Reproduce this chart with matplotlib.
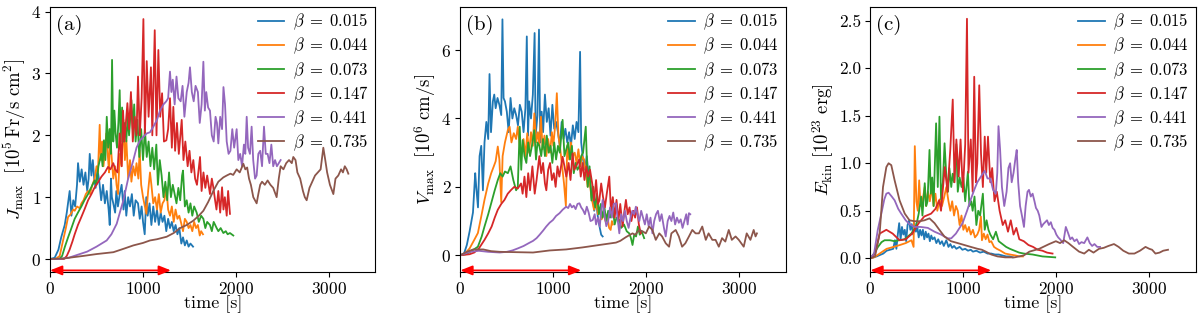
import numpy as np
import matplotlib
matplotlib.use("Agg")
import matplotlib.pyplot as plt

plt.rcParams['font.family'] = 'serif'
plt.rcParams['font.serif'] = ['cmr10', 'DejaVu Serif']
plt.rcParams['mathtext.fontset'] = 'cm'
plt.rcParams['axes.formatter.use_mathtext'] = True
plt.rcParams['axes.unicode_minus'] = False

betas = ['0.015', '0.044', '0.073', '0.147', '0.441', '0.735']
colors = ['#1f77b4', '#ff7f0e', '#2ca02c', '#d62728', '#9467bd', '#8c564b']
xticks = [0, 1000, 2000, 3000]

# ---------------- panel (a): J_max ----------------
a_blue = np.array([(0,0),(50,0.02),(90,0.15),(120,0.35),(158,0.55),(180,0.75),(211,1.1),(230,0.7),(250,0.95),(270,0.85),(290,1.2),(301,1.55),(320,1.25),(340,1.45),(360,1.2),(380,1.4),(400,1.1),(415,1.3),(427,1.7),(445,1.35),(460,1.6),(475,1.3),(490,1.15),(510,1.45),(530,1.25),(550,0.95),(570,1.2),(590,0.9),(610,1.1),(630,0.8),(642,0.55),(655,1.3),(665,1.0),(680,0.9),(700,0.75),(713,1.1),(730,0.85),(750,1.05),(770,1.2),(790,0.8),(803,1.1),(820,0.7),(840,1.0),(860,0.85),(880,1.05),(900,0.7),(920,0.95),(946,0.9),(965,0.65),(985,0.85),(1000,0.6),(1018,0.4),(1035,1.0),(1050,0.7),(1070,0.9),(1090,0.55),(1110,0.85),(1130,0.6),(1150,0.8),(1170,0.55),(1190,0.75),(1210,0.6),(1230,0.7),(1250,0.45),(1270,0.65),(1290,0.5),(1310,0.6),(1330,0.45),(1350,0.55),(1370,0.4),(1390,0.5),(1412,0.25),(1430,0.35),(1450,0.22),(1470,0.3),(1490,0.2),(1510,0.25),(1538,0.2)])
a_orange = np.array([(0,0),(60,0.0),(104,0.05),(140,0.3),(170,0.5),(194,0.68),(220,0.72),(250,0.8),(265,0.78),(290,0.85),(320,0.82),(337,0.9),(360,0.95),(385,1.05),(409,1.1),(430,1.05),(455,1.2),(480,1.3),(500,1.5),(515,1.4),(534,2.17),(545,1.6),(560,1.9),(575,1.5),(590,1.75),(605,2.03),(620,1.7),(635,1.4),(645,2.1),(660,1.7),(680,1.3),(700,1.5),(715,1.2),(731,1.05),(750,1.7),(770,1.5),(790,2.25),(805,1.6),(821,1.92),(840,1.3),(860,1.6),(875,1.25),(895,1.5),(915,1.35),(930,1.55),(950,1.3),(964,1.76),(980,1.2),(1000,1.0),(1020,0.85),(1036,0.73),(1055,1.1),(1075,1.4),(1090,1.2),(1110,0.9),(1130,1.0),(1150,0.8),(1170,1.05),(1190,0.75),(1210,0.9),(1230,0.95),(1251,1.16),(1270,0.8),(1290,0.7),(1310,0.85),(1330,0.6),(1350,0.8),(1370,0.65),(1390,0.7),(1412,0.57),(1430,0.45),(1450,0.65),(1470,0.6),(1490,0.5),(1510,0.55),(1530,0.45),(1550,0.6),(1570,0.5),(1590,0.55),(1610,0.38),(1625,0.45),(1645,0.4)])
a_green = np.array([(0,0),(100,0.0),(130,0.05),(160,0.2),(194,0.35),(230,0.5),(265,0.65),(300,0.75),(337,0.85),(370,0.95),(409,1.05),(440,1.15),(480,1.27),(500,1.2),(520,1.5),(552,1.7),(565,1.5),(580,1.92),(595,1.6),(610,2.3),(625,1.8),(640,2.1),(655,1.7),(667,3.22),(680,1.9),(692,2.4),(705,2.03),(720,1.8),(735,2.2),(749,2.73),(760,1.9),(775,2.45),(790,1.9),(805,2.2),(820,1.9),(835,2.3),(850,2.0),(875,2.57),(890,2.1),(905,2.5),(920,1.9),(940,2.25),(960,1.65),(980,2.1),(1000,1.6),(1020,2.1),(1040,1.65),(1060,1.9),(1080,1.5),(1100,1.8),(1120,1.45),(1143,1.85),(1160,1.2),(1180,1.6),(1200,1.35),(1220,1.0),(1240,1.25),(1260,0.95),(1280,1.4),(1300,1.0),(1320,1.2),(1340,1.05),(1360,0.9),(1380,1.15),(1400,0.95),(1420,1.35),(1430,1.43),(1450,0.85),(1470,0.95),(1490,0.75),(1510,0.9),(1530,0.7),(1550,0.85),(1577,0.75),(1600,0.6),(1625,0.7),(1649,0.65),(1670,0.5),(1690,0.6),(1720,0.55),(1740,0.45),(1760,0.6),(1792,0.5),(1810,0.45),(1835,0.5),(1864,0.42),(1890,0.45),(1910,0.4),(1935,0.42),(1971,0.38)])
a_red = np.array([(0,0),(150,0.0),(180,0.05),(210,0.15),(240,0.28),(265,0.4),(300,0.55),(337,0.68),(370,0.8),(409,0.95),(445,1.05),(480,1.16),(520,1.25),(552,1.33),(590,1.4),(624,1.49),(650,1.45),(680,1.55),(700,1.45),(725,1.4),(749,2.03),(770,1.5),(785,2.4),(800,1.9),(832,2.52),(850,2.1),(870,2.7),(890,1.9),(910,2.3),(930,2.0),(946,2.95),(965,2.0),(985,2.6),(1004,3.88),(1020,2.0),(1040,3.2),(1060,2.3),(1085,3.1),(1100,2.0),(1126,3.7),(1145,2.0),(1165,3.38),(1185,2.3),(1205,2.68),(1225,1.9),(1251,1.92),(1270,2.1),(1290,2.6),(1310,1.8),(1326,2.46),(1345,1.75),(1365,2.2),(1385,1.7),(1416,2.25),(1435,1.6),(1455,1.9),(1480,1.5),(1500,1.75),(1520,1.4),(1541,1.6),(1560,1.3),(1580,1.2),(1613,1.65),(1630,1.1),(1650,1.4),(1670,1.15),(1690,1.35),(1720,1.05),(1740,1.3),(1756,1.16),(1775,0.95),(1790,0.8),(1810,1.1),(1830,0.75),(1850,1.16),(1865,0.8),(1880,1.0),(1900,0.7),(1915,1.1),(1935,0.73)])
a_purple = np.array([(0,0),(100,0.0),(200,0.02),(300,0.07),(400,0.12),(500,0.2),(609,0.3),(660,0.4),(717,0.57),(760,0.8),(789,0.95),(840,1.3),(896,1.6),(930,1.8),(968,1.92),(1000,1.97),(1039,2.03),(1075,2.05),(1111,2.14),(1150,2.25),(1183,2.4),(1220,2.5),(1250,2.55),(1270,2.6),(1290,3.03),(1305,2.7),(1320,2.9),(1340,2.5),(1360,2.95),(1380,2.6),(1405,2.55),(1425,2.8),(1445,2.3),(1470,2.7),(1490,2.85),(1505,3.1),(1525,2.7),(1545,2.55),(1565,2.8),(1590,2.7),(1610,2.2),(1630,2.5),(1649,3.19),(1665,2.4),(1680,2.7),(1700,2.45),(1720,2.4),(1740,2.0),(1760,1.9),(1780,2.3),(1795,2.2),(1810,1.87),(1830,2.3),(1850,2.1),(1865,2.78),(1882,2.5),(1900,1.9),(1920,1.7),(1940,1.75),(1960,2.1),(1980,1.8),(2007,2.1),(2025,1.6),(2045,1.7),(2065,1.5),(2085,1.85),(2100,1.7),(2115,2.3),(2130,1.8),(2150,1.7),(2168,2.14),(2185,1.6),(2205,1.3),(2222,1.35),(2240,1.7),(2260,1.75),(2280,1.5),(2301,2.14),(2320,1.7),(2340,1.7),(2360,1.55),(2380,1.85),(2400,1.5),(2420,1.6),(2440,1.5),(2460,1.55),(2480,1.6)])
a_brown = np.array([(0,0),(150,0.01),(358,0.05),(500,0.08),(681,0.11),(800,0.17),(896,0.22),(1000,0.26),(1075,0.3),(1150,0.32),(1254,0.36),(1330,0.42),(1398,0.5),(1470,0.55),(1541,0.62),(1600,0.7),(1649,0.78),(1700,0.92),(1756,1.1),(1810,1.25),(1864,1.32),(1900,1.35),(1940,1.38),(1970,1.36),(2007,1.45),(2040,1.4),(2079,1.54),(2100,1.45),(2120,1.48),(2140,1.3),(2160,1.2),(2186,1.0),(2222,0.9),(2240,1.05),(2260,1.2),(2280,1.25),(2310,1.2),(2340,1.27),(2370,1.2),(2400,1.15),(2437,1.0),(2460,1.3),(2480,1.5),(2510,1.45),(2540,1.55),(2570,1.6),(2600,1.55),(2616,1.65),(2640,1.6),(2660,1.4),(2690,1.3),(2720,1.1),(2740,1.0),(2760,0.95),(2790,1.15),(2820,1.25),(2850,1.35),(2880,1.4),(2910,1.45),(2939,1.8),(2960,1.6),(2980,1.4),(3010,1.2),(3047,1.05),(3070,1.3),(3100,1.35),(3130,1.45),(3150,1.4),(3170,1.5),(3190,1.45),(3208,1.38)])

# ---------------- panel (b): V_max ----------------
b_blue_t = [0,40,70,100,136,160,171,190,207,225,243,260,280,300,314,330,350,365,380,400,420,440,453,465,480,500,520,540,560,580,600,620,640,660,680,700,715,728,740,760,780,799,810,830,846,860,875,890,910,930,950,970,990,1010,1030,1050,1070,1090,1110,1130,1150,1170,1190,1210,1230,1250,1270,1288,1300,1320,1340,1360,1380,1400,1420,1440,1460,1480,1500,1515,1531]
b_blue_v = [0,0.05,0.3,0.7,1.25,2.4,2.0,1.4,2.9,3.2,1.9,3.3,3.9,3.4,5.3,3.6,4.5,4.7,4.3,4.6,4.4,4.1,6.9,4.6,4.5,4.2,3.6,4.6,4.0,4.3,4.1,3.8,4.4,4.2,3.6,4.3,6.4,3.5,4.5,4.0,4.7,6.5,3.5,4.1,6.6,3.3,4.2,3.6,4.7,3.9,4.3,3.5,4.4,3.7,3.9,3.6,3.2,3.9,3.4,3.7,3.3,3.6,3.2,3.8,3.4,3.9,3.6,5.95,3.3,2.8,2.5,2.9,2.3,2.0,1.8,1.3,1.6,1.1,0.8,0.6,0.55]
b_blue = np.column_stack([b_blue_t, b_blue_v])
b_orange = np.array([(0,0),(50,0.05),(100,0.2),(150,0.45),(189,0.65),(230,1.2),(260,1.62),(300,2.1),(332,2.4),(360,2.6),(380,2.75),(403,3.18),(420,2.8),(440,1.55),(455,2.9),(480,3.3),(511,3.66),(530,3.76),(550,3.3),(575,3.57),(600,3.4),(618,3.76),(640,3.2),(660,2.98),(680,3.4),(700,2.9),(720,3.57),(740,3.0),(760,3.6),(780,3.2),(796,4.15),(815,3.3),(835,3.6),(850,3.2),(867,4.05),(885,3.1),(905,3.5),(925,2.9),(945,3.4),(965,3.0),(985,3.6),(1000,3.2),(1020,3.8),(1038,4.74),(1055,3.5),(1075,3.1),(1095,2.6),(1115,2.1),(1135,1.45),(1150,3.2),(1170,2.8),(1190,3.3),(1210,2.9),(1230,3.0),(1250,2.7),(1270,3.1),(1290,2.6),(1310,2.9),(1331,2.8),(1350,2.4),(1370,2.0),(1390,2.2),(1410,1.7),(1438,1.33),(1460,1.6),(1480,1.2),(1500,1.3),(1520,1.05),(1540,1.25),(1560,1.0),(1580,1.2),(1600,0.8),(1617,0.74),(1630,1.0),(1640,0.9)])
b_green = np.array([(0,0),(60,0.03),(120,0.12),(189,0.25),(230,0.55),(260,0.84),(300,1.2),(332,1.52),(370,1.9),(403,2.2),(430,2.4),(455,2.3),(480,2.45),(511,2.4),(540,2.6),(570,2.2),(600,1.9),(618,2.0),(639,3.76),(655,2.5),(671,3.37),(690,2.9),(710,2.7),(730,3.3),(750,2.9),(770,3.2),(795,3.66),(814,2.8),(830,3.3),(850,3.2),(870,2.9),(890,3.4),(910,2.9),(930,3.5),(950,3.0),(970,3.2),(990,2.7),(1010,3.3),(1030,2.8),(1050,3.2),(1070,3.0),(1100,3.96),(1120,2.9),(1140,3.1),(1160,3.3),(1180,2.8),(1200,3.2),(1220,2.4),(1240,2.7),(1260,2.5),(1280,2.6),(1300,2.9),(1320,3.0),(1349,3.76),(1370,2.0),(1390,2.6),(1410,1.6),(1430,2.0),(1450,1.4),(1470,1.8),(1490,1.2),(1510,1.5),(1530,1.1),(1550,1.4),(1570,1.0),(1590,1.3),(1610,1.1),(1638,1.42),(1660,0.9),(1680,1.1),(1710,1.03),(1730,0.8),(1760,0.9),(1790,0.7),(1817,0.64),(1835,0.5),(1852,0.3),(1870,0.6),(1890,0.55),(1910,0.84),(1930,0.6),(1950,0.7),(1977,0.5)])
b_red = np.array([(0,0),(100,0.03),(150,0.08),(200,0.2),(260,0.45),(300,0.64),(337,0.84),(370,1.1),(403,1.33),(440,1.5),(475,1.62),(510,1.8),(546,1.91),(580,2.0),(618,1.95),(653,2.1),(670,1.8),(690,2.3),(710,1.7),(730,2.4),(750,1.9),(775,2.6),(800,1.8),(820,2.2),(850,2.9),(870,2.4),(890,2.7),(910,2.1),(925,1.9),(945,2.5),(965,2.7),(985,2.2),(1005,2.4),(1025,2.0),(1045,2.6),(1065,2.3),(1100,2.88),(1120,2.6),(1140,2.3),(1165,2.7),(1185,2.2),(1207,2.98),(1225,2.5),(1245,2.6),(1278,2.8),(1295,2.3),(1315,2.7),(1335,2.2),(1355,2.6),(1375,2.3),(1395,2.5),(1424,2.0),(1440,1.6),(1460,2.2),(1480,1.5),(1495,1.6),(1515,2.1),(1535,1.7),(1555,1.4),(1575,1.8),(1602,2.3),(1620,1.3),(1640,1.7),(1660,1.1),(1680,1.62),(1700,1.0),(1720,1.5),(1745,0.84),(1765,1.3),(1781,1.62),(1800,1.2),(1820,1.4),(1840,1.0),(1860,1.3),(1880,1.1),(1900,1.4),(1920,0.9),(1941,0.64)])
b_purple = np.array([(0,0),(100,0.1),(200,0.13),(300,0.1),(425,0.08),(500,0.1),(560,0.14),(618,0.2),(680,0.27),(740,0.36),(782,0.42),(820,0.5),(853,0.6),(890,0.72),(924,0.84),(960,0.95),(996,1.03),(1030,1.15),(1067,1.23),(1100,1.33),(1138,1.42),(1160,1.38),(1180,1.5),(1200,1.4),(1220,1.45),(1240,1.35),(1260,1.5),(1281,1.52),(1300,1.4),(1320,1.32),(1340,1.2),(1360,1.42),(1380,1.25),(1400,1.0),(1424,1.03),(1445,1.2),(1460,0.9),(1480,1.1),(1500,0.84),(1515,1.3),(1531,1.62),(1550,1.2),(1570,0.85),(1590,1.0),(1610,1.4),(1630,1.1),(1650,1.5),(1674,1.52),(1690,1.1),(1710,0.64),(1730,1.2),(1750,1.0),(1770,1.3),(1790,1.0),(1810,0.8),(1830,1.1),(1850,1.3),(1870,1.2),(1888,1.42),(1905,1.2),(1925,1.0),(1945,1.3),(1965,1.1),(1985,0.9),(2005,1.2),(2025,0.85),(2045,1.1),(2066,0.64),(2085,1.0),(2105,1.2),(2125,1.3),(2145,1.0),(2165,1.2),(2190,0.8),(2209,0.55),(2230,1.0),(2250,1.15),(2270,1.0),(2290,1.25),(2310,0.9),(2330,1.1),(2350,0.95),(2370,1.05),(2390,0.8),(2410,1.0),(2430,1.2),(2445,0.9),(2459,1.23),(2473,1.2)])
b_brown = np.array([(0,0),(68,0.1),(139,0.17),(246,0.17),(330,0.12),(425,0.1),(600,0.09),(782,0.08),(960,0.14),(1138,0.17),(1317,0.23),(1495,0.3),(1674,0.37),(1720,0.42),(1781,0.53),(1852,0.64),(1880,0.6),(1924,0.74),(1960,0.7),(1995,0.64),(2030,0.84),(2066,0.74),(2102,0.45),(2140,0.64),(2170,0.55),(2209,0.35),(2245,0.25),(2270,0.64),(2316,0.74),(2350,0.55),(2385,0.25),(2420,0.35),(2459,0.55),(2495,0.74),(2530,0.64),(2566,0.64),(2602,0.84),(2640,0.45),(2670,0.64),(2710,0.45),(2745,0.45),(2780,0.25),(2815,0.5),(2850,0.4),(2887,0.74),(2920,0.45),(2960,0.55),(2995,0.45),(3048,0.25),(3080,0.64),(3120,0.45),(3155,0.74),(3175,0.55),(3190,0.64)])

# ---------------- panel (c): E_kin ----------------
c_blue = np.array([(0,0),(68,0.02),(139,0.05),(175,0.08),(211,0.09),(246,0.1),(264,0.19),(280,0.1),(295,0.25),(310,0.37),(325,0.2),(340,0.33),(355,0.25),(370,0.3),(385,0.18),(400,0.35),(418,0.4),(430,0.3),(445,0.36),(460,0.25),(475,0.37),(490,0.28),(505,0.33),(520,0.22),(535,0.3),(550,0.24),(565,0.3),(580,0.2),(595,0.28),(610,0.22),(625,0.26),(640,0.18),(655,0.24),(670,0.2),(690,0.22),(710,0.16),(730,0.2),(750,0.15),(770,0.18),(790,0.13),(817,0.19),(840,0.12),(860,0.15),(880,0.11),(900,0.13),(925,0.1),(960,0.12),(990,0.09),(1020,0.1),(1050,0.08),(1080,0.09),(1103,0.07),(1140,0.08),(1180,0.06),(1220,0.07),(1260,0.05),(1300,0.05),(1340,0.04),(1380,0.04),(1420,0.03),(1460,0.02),(1500,0.02),(1531,0.01)])
c_orange = np.array([(0,0),(40,0.01),(100,0.05),(175,0.1),(250,0.12),(318,0.14),(380,0.16),(442,0.19),(465,0.12),(478,1.18),(495,0.6),(510,0.5),(525,0.82),(540,0.55),(560,0.6),(585,0.75),(600,0.55),(620,0.7),(640,0.6),(660,0.75),(680,0.55),(700,0.68),(720,0.5),(745,0.62),(770,0.55),(795,0.65),(817,0.75),(840,0.6),(860,0.5),(880,0.6),(900,0.45),(920,0.55),(940,0.5),(960,0.35),(980,0.45),(1000,0.3),(1020,0.35),(1040,0.28),(1060,0.33),(1080,0.25),(1103,0.3),(1125,0.22),(1150,0.25),(1170,0.3),(1189,0.44),(1200,0.19),(1220,0.26),(1240,0.2),(1260,0.25),(1280,0.17),(1300,0.18),(1330,0.12),(1360,0.1),(1400,0.08),(1450,0.05),(1500,0.04),(1560,0.03),(1602,0.02),(1640,0.02)])
c_green = np.array([(0,0),(40,0.05),(82,0.12),(120,0.17),(153,0.19),(210,0.19),(260,0.18),(310,0.19),(368,0.2),(440,0.26),(490,0.33),(520,0.47),(546,0.65),(560,0.45),(585,0.79),(600,0.55),(615,0.6),(636,1.14),(650,0.68),(665,0.85),(680,0.55),(707,1.42),(725,0.75),(743,1.49),(760,0.62),(780,0.8),(798,1.21),(815,0.9),(835,0.7),(850,0.95),(870,0.75),(885,0.89),(900,0.8),(924,1.2),(940,0.7),(960,0.85),(980,0.75),(1000,0.85),(1020,0.6),(1049,0.91),(1065,0.55),(1085,0.6),(1100,0.5),(1120,0.65),(1140,0.35),(1160,0.5),(1180,0.45),(1210,0.68),(1230,0.3),(1250,0.4),(1270,0.3),(1290,0.25),(1320,0.2),(1350,0.28),(1380,0.18),(1420,0.15),(1460,0.12),(1500,0.1),(1550,0.08),(1600,0.06),(1650,0.05),(1745,0.04),(1850,0.02),(1988,0.01)])
c_red = np.array([(0,0),(50,0.05),(100,0.26),(172,0.3),(240,0.26),(314,0.19),(380,0.2),(450,0.26),(520,0.37),(580,0.44),(653,0.47),(700,0.52),(740,0.61),(760,0.5),(800,0.96),(830,0.7),(860,1.15),(886,1.67),(905,0.8),(925,1.25),(950,0.86),(970,1.25),(995,0.7),(1020,1.2),(1039,2.52),(1055,0.9),(1080,1.25),(1100,0.7),(1117,1.91),(1135,0.8),(1150,1.0),(1171,1.82),(1190,1.1),(1210,0.75),(1230,1.28),(1246,0.9),(1265,1.28),(1290,0.8),(1310,0.95),(1335,0.6),(1360,0.7),(1390,0.5),(1424,0.35),(1450,0.4),(1480,0.28),(1510,0.4),(1540,0.25),(1570,0.32),(1602,0.2),(1650,0.18),(1700,0.14),(1750,0.12),(1800,0.09),(1850,0.08),(1900,0.06),(1959,0.05)])
c_purple = np.array([(0,0),(40,0.05),(80,0.3),(118,0.47),(150,0.62),(172,0.68),(196,0.69),(230,0.65),(261,0.61),(300,0.52),(332,0.47),(380,0.4),(420,0.36),(475,0.33),(540,0.33),(618,0.32),(690,0.28),(760,0.25),(831,0.21),(870,0.21),(920,0.26),(992,0.37),(1040,0.5),(1080,0.62),(1117,0.72),(1150,0.8),(1189,0.86),(1230,0.92),(1260,0.84),(1290,0.84),(1320,0.72),(1349,0.68),(1365,0.9),(1378,1.39),(1395,1.15),(1415,0.75),(1440,0.55),(1465,0.7),(1485,0.95),(1503,1.0),(1520,0.8),(1540,0.9),(1560,1.05),(1574,1.14),(1590,0.8),(1610,0.55),(1630,0.45),(1652,0.33),(1670,0.55),(1690,0.7),(1706,0.72),(1725,0.65),(1745,0.68),(1765,0.6),(1781,0.53),(1800,0.5),(1817,0.45),(1840,0.33),(1860,0.36),(1880,0.38),(1900,0.4),(1920,0.35),(1941,0.38),(1960,0.32),(1980,0.3),(2000,0.25),(2020,0.22),(2040,0.2),(2074,0.16),(2102,0.33),(2125,0.27),(2150,0.2),(2170,0.22),(2195,0.18),(2220,0.2),(2245,0.15),(2270,0.17),(2300,0.16),(2334,0.22),(2360,0.16),(2385,0.13),(2410,0.15),(2440,0.12),(2470,0.12)])
c_brown = np.array([(0,0),(50,0.02),(100,0.26),(136,0.75),(172,0.96),(196,1.0),(225,0.98),(261,0.82),(314,0.61),(370,0.47),(421,0.4),(475,0.39),(530,0.39),(582,0.4),(636,0.42),(690,0.37),(742,0.3),(796,0.23),(867,0.18),(940,0.16),(1010,0.14),(1080,0.12),(1153,0.1),(1200,0.09),(1242,0.07),(1300,0.04),(1367,0.02),(1450,0.01),(1550,0.01),(1650,0.03),(1710,0.07),(1816,0.1),(1923,0.15),(1995,0.18),(2040,0.16),(2084,0.19),(2130,0.16),(2180,0.12),(2245,0.07),(2300,0.05),(2350,0.09),(2400,0.06),(2459,0.1),(2510,0.11),(2560,0.13),(2620,0.15),(2670,0.12),(2720,0.08),(2780,0.05),(2840,0.05),(2900,0.08),(2959,0.12),(3000,0.1),(3030,0.09),(3066,0.05),(3110,0.06),(3150,0.08),(3201,0.09)])

panels = [
    dict(series=[a_blue, a_orange, a_green, a_red, a_purple, a_brown],
         ylabel=r'$J_{\rm max}\ \ [10^5\,{\rm Fr/s\ cm^2}]$', tag='(a)',
         ylim=(-0.21, 4.08), yticks=[0, 1, 2, 3, 4], left=0.0417),
    dict(series=[b_blue, b_orange, b_green, b_red, b_purple, b_brown],
         ylabel=r'$V_{\rm max}\ \ [10^6\ {\rm cm/s}]$', tag='(b)',
         ylim=(-0.49, 7.27), yticks=[0, 2, 4, 6], left=0.3836),
    dict(series=[c_blue, c_orange, c_green, c_red, c_purple, c_brown],
         ylabel=r'$E_{\rm kin}\ [10^{23}\ {\rm erg}]$', tag='(c)',
         ylim=(-0.144, 2.647), yticks=[0.0, 0.5, 1.0, 1.5, 2.0, 2.5], left=0.7253),
]
arrow_span = (0, 1300)

fig = plt.figure(figsize=(12, 3.13), dpi=100)
for p in panels:
    ax = fig.add_axes([p['left'], 0.131, 0.2712, 0.8476])
    for data, col, b in zip(p['series'], colors, betas):
        ax.plot(data[:, 0], data[:, 1], color=col, lw=1.3,
                label=r'$\beta\;=\;%s$' % b)
    ax.set_xlim(0, 3500)
    ax.set_ylim(*p['ylim'])
    ax.set_xticks(xticks)
    ax.set_yticks(p['yticks'])
    if p['tag'] == '(c)':
        ax.set_yticklabels(['%.1f' % v for v in p['yticks']])
    ax.tick_params(labelsize=12.5, pad=3)
    ax.set_xlabel('time [s]', fontsize=13, labelpad=-1.5)
    ax.set_ylabel(p['ylabel'], fontsize=13.5, labelpad=2)
    ax.text(0.018, 0.968, p['tag'], transform=ax.transAxes, fontsize=15,
            ha='left', va='top')
    ax.legend(loc='upper right', bbox_to_anchor=(0.995, 1.0), frameon=False,
              fontsize=12, handlelength=1.6, handletextpad=0.5,
              labelspacing=0.22, borderaxespad=0.1, borderpad=0.2)
    ax.annotate('', xy=(arrow_span[0], 0.006), xytext=(arrow_span[1], 0.006),
                xycoords=ax.get_xaxis_transform(),
                textcoords=ax.get_xaxis_transform(),
                arrowprops=dict(arrowstyle='<|-|>,head_length=0.4,head_width=0.16',
                                color='red', lw=1.3, shrinkA=0, shrinkB=0,
                                mutation_scale=18))

fig.savefig('out.png', dpi=100)
